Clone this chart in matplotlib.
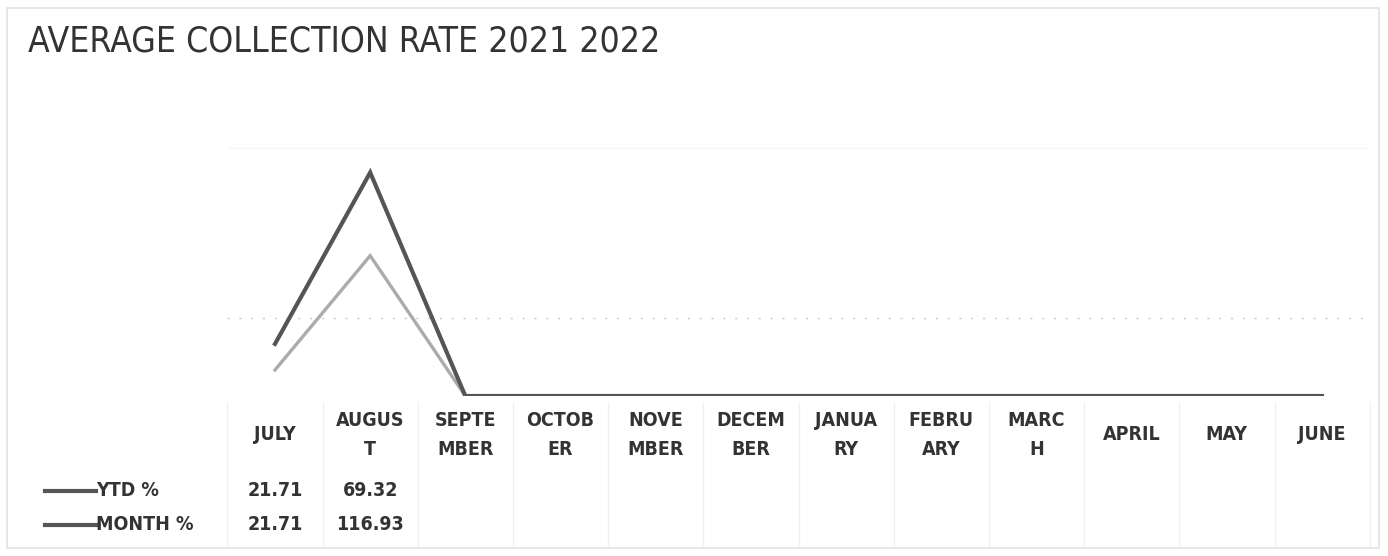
import matplotlib.pyplot as plt
import matplotlib.transforms as mtransforms
from matplotlib.patches import Rectangle
from matplotlib.lines import Line2D

# --- data ---
months = ['JULY', 'AUGUS\nT', 'SEPTE\nMBER', 'OCTOB\nER', 'NOVE\nMBER', 'DECEM\nBER',
          'JANUA\nRY', 'FEBRU\nARY', 'MARC\nH', 'APRIL', 'MAY', 'JUNE']
ytd_pct = [21.71, 69.32, None, None, None, None, None, None, None, None, None, None]
month_pct = [21.71, 116.93, None, None, None, None, None, None, None, None, None, None]

# empty cells count as zero, lines are stacked (month first, ytd on top)
month_vals = [v if v is not None else 0 for v in month_pct]
ytd_vals = [v if v is not None else 0 for v in ytd_pct]
stacked_ytd = [m + y for m, y in zip(month_vals, ytd_vals)]

TEXT = '#333333'
DARK = '#555555'
LIGHT = '#ababab'
FONT = ['DejaVu Sans Condensed', 'DejaVu Sans']
TXT = dict(family=FONT, fontstretch='condensed', color=TEXT)

W, H = 1388, 556
fig = plt.figure(figsize=(W / 100, H / 100), dpi=100)
fig.patch.set_facecolor('white')

# plot area: centers of July..June at 275..1322 px, zero line at 396 px
ax = fig.add_axes([227.4 / W, (H - 396) / H, 1142.2 / W, 300 / H])
ax.set_xlim(-0.5, len(months) - 0.5)
ax.set_ylim(0, 250)
x = list(range(len(months)))

ax.plot(x, month_vals, color=LIGHT, lw=2.4, solid_joinstyle='miter', zorder=3)
ax.plot(x, stacked_ytd, color=DARK, lw=3.0, solid_joinstyle='miter', zorder=4)

for s in ax.spines.values():
    s.set_visible(False)
ax.set_xticks([])
ax.set_yticks([])
ax.axhline(65, color='#c8c8c8', lw=1.0, ls=(0, (1.5, 7)), zorder=1)
ax.axhline(207, color='#f7f7f7', lw=1.0, zorder=1)

# title
fig.text(28 / W, 1 - 42 / H, 'AVERAGE COLLECTION RATE 2021 2022', fontsize=25.5,
         fontweight='medium', ha='left', va='center', **TXT)

# data table under the chart
tr = mtransforms.blended_transform_factory(ax.transData, fig.transFigure)
for i, lab in enumerate(months):
    ax.text(i, 1 - 435 / H, lab, transform=tr, fontsize=14, fontweight='bold',
            ha='center', va='center', linespacing=1.7, clip_on=False, **TXT)
    if ytd_pct[i] is not None:
        ax.text(i, 1 - 491 / H, f'{ytd_pct[i]:.2f}', transform=tr, fontsize=14,
                fontweight='bold', ha='center', va='center', clip_on=False, **TXT)
    if month_pct[i] is not None:
        ax.text(i, 1 - 525 / H, f'{month_pct[i]:.2f}', transform=tr, fontsize=14,
                fontweight='bold', ha='center', va='center', clip_on=False, **TXT)

# faint table cell dividers
for k in range(len(months) + 1):
    xp = (227.4 + k * 95.2) / W
    fig.add_artist(Line2D([xp, xp], [1 - 545 / H, 1 - 402 / H],
                          color='#f0f0f0', lw=1.0))

# row headers with legend keys
for yp, name, col in [(491, 'YTD %', DARK), (525, 'MONTH %', DARK)]:
    fig.add_artist(Line2D([45 / W, 96 / W], [1 - yp / H, 1 - yp / H],
                          color=col, lw=3.0))
    fig.text(96 / W, 1 - yp / H, name, fontsize=14, fontweight='bold',
             ha='left', va='center', **TXT)

# chart border
fig.add_artist(Rectangle((7 / W, 8 / H), 1372 / W, 540 / H, fill=False,
                         ec='#e2e2e2', lw=1.2, transform=fig.transFigure))

fig.savefig('out.png', dpi=100, facecolor='white')
